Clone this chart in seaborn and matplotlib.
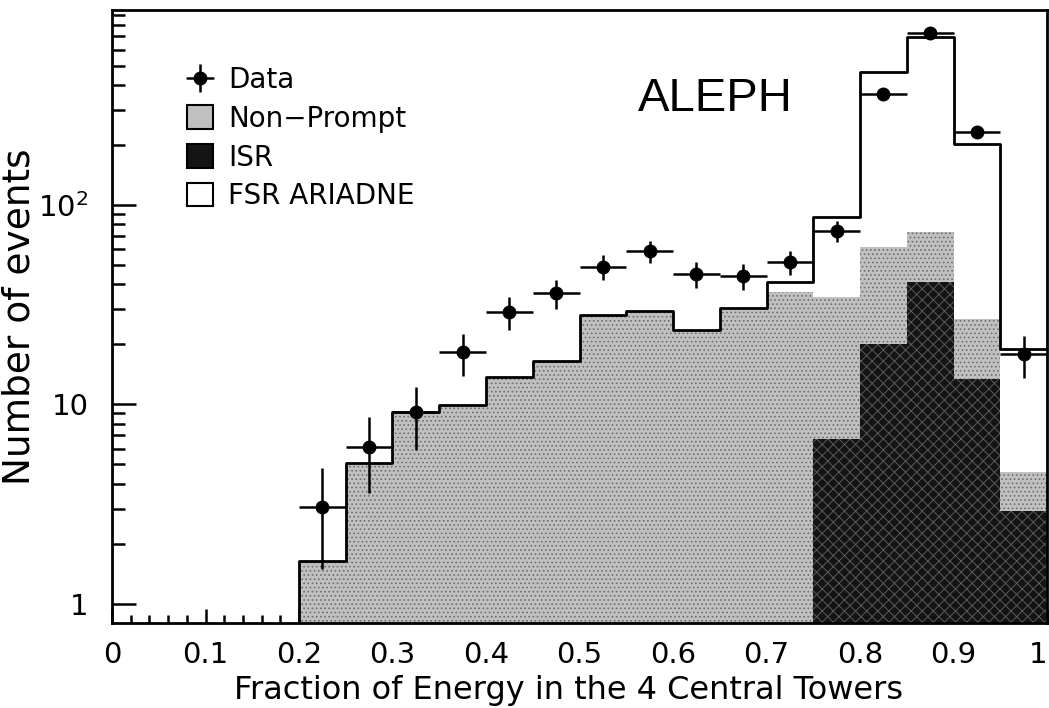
import numpy as np
import pandas as pd
import matplotlib
matplotlib.use("Agg")
import matplotlib.pyplot as plt
import seaborn as sns
from matplotlib.lines import Line2D
from matplotlib.patches import Patch
from matplotlib.ticker import FixedLocator, MultipleLocator, NullFormatter

# ---------------- data ----------------
bin_edges = [0.00, 0.05, 0.10, 0.15, 0.20, 0.25, 0.30, 0.35, 0.40, 0.45, 0.50,
             0.55, 0.60, 0.65, 0.70, 0.75, 0.80, 0.85, 0.90, 0.95, 1.00]
bin_centers = [0.025, 0.075, 0.125, 0.175, 0.225, 0.275, 0.325, 0.375, 0.425, 0.475,
               0.525, 0.575, 0.625, 0.675, 0.725, 0.775, 0.825, 0.875, 0.925, 0.975]

isr = [0, 0, 0, 0, 0, 0, 0, 0, 0, 0,
       0, 0, 0, 0, 0, 6.7, 20.0, 41.0, 13.4, 2.9]
non_prompt = [0, 0, 0, 0, 1.63, 5.05, 9.1, 9.9, 13.7, 16.4,
              28.0, 29.5, 23.5, 30.5, 36.5, 27.8, 41.5, 32.0, 13.3, 1.65]
fsr_ariadne = [0, 0, 0, 0, 0, 0, 0, 0, 0, 0,
               0, 0, 0, 0, 4.5, 52.5, 404.0, 626.0, 176.0, 14.4]

data_x = [0.225, 0.275, 0.325, 0.375, 0.425, 0.475, 0.525, 0.575, 0.625,
          0.675, 0.725, 0.775, 0.825, 0.875, 0.925, 0.975]
data_y = [3.07, 6.1, 9.1, 18.2, 29.0, 36.0, 49.0, 58.5, 45.0,
          44.0, 51.5, 74.0, 360.0, 730.0, 232.0, 17.8]
data_lo = [1.5, 3.6, 5.9, 13.9, 23.6, 30.0, 42.0, 50.9, 38.3,
           37.4, 44.3, 65.4, 341.0, 703.0, 217.0, 13.6]
data_hi = [4.8, 8.6, 12.2, 22.5, 34.4, 42.0, 56.0, 66.1, 51.7,
           50.6, 58.7, 82.6, 379.0, 757.0, 247.0, 22.0]

x_ticks = [0.0, 0.1, 0.2, 0.3, 0.4, 0.5, 0.6, 0.7, 0.8, 0.9, 1.0]
x_tick_labels = ["0", "0.1", "0.2", "0.3", "0.4", "0.5", "0.6", "0.7", "0.8", "0.9", "1"]
y_ticks = [1, 10, 100]
y_tick_labels = ["1", "10", r"$\mathregular{10^{2}}$"]

# ---------------- build tables ----------------
hist = pd.DataFrame({
    "x": bin_centers,
    "isr": isr,
    "non_prompt": non_prompt,
    "fsr": fsr_ariadne,
})
hist["stack_np"] = hist["isr"] + hist["non_prompt"]
hist["stack_total"] = hist["stack_np"] + hist["fsr"]

data = pd.DataFrame({"x": data_x, "y": data_y, "lo": data_lo, "hi": data_hi})

# ---------------- style ----------------
sns.set_style("ticks")
plt.rcParams["font.family"] = ["DejaVu Sans"]
plt.rcParams["hatch.linewidth"] = 0.7
plt.rcParams["mathtext.fontset"] = "dejavusans"
for key in ["text.color", "axes.labelcolor", "xtick.color", "ytick.color", "axes.edgecolor"]:
    plt.rcParams[key] = "black"

fig = plt.figure(figsize=(10.49, 7.08), dpi=100)
ax = fig.add_axes([112 / 1049, 1 - 623 / 708, 935 / 1049, 613 / 708])
ax.set_yscale("log")

# total (white, FSR on top)
sns.histplot(data=hist, x="x", weights="stack_total", bins=bin_edges,
             element="step", fill=True, color="white", alpha=1,
             linewidth=0, ax=ax)
# non-prompt (stipple grey)
plt.rcParams["hatch.color"] = "#6e6e6e"
sns.histplot(data=hist, x="x", weights="stack_np", bins=bin_edges,
             element="step", fill=True, facecolor="#c0c0c0", edgecolor="#6e6e6e",
             alpha=1, linewidth=0, hatch="....", ax=ax)
# ISR (dark cross-hatched)
plt.rcParams["hatch.color"] = "#5a5a5a"
sns.histplot(data=hist, x="x", weights="isr", bins=bin_edges,
             element="step", fill=True, facecolor="#141414", edgecolor="#5a5a5a",
             alpha=1, linewidth=0, hatch="xxx", ax=ax)
# total outline
sns.histplot(data=hist, x="x", weights="stack_total", bins=bin_edges,
             element="step", fill=False, color="black", linewidth=2.0, ax=ax)

# data points
yerr = np.vstack([data["y"] - data["lo"], data["hi"] - data["y"]])
ax.errorbar(data["x"], data["y"], xerr=0.025, yerr=yerr, fmt="o",
            color="black", markersize=9, elinewidth=1.8, capsize=0, zorder=10)

# ---------------- axes ----------------
ax.set_xlim(0, 1)
ax.set_ylim(0.8, 950)
ax.xaxis.set_major_locator(FixedLocator(x_ticks))
ax.set_xticklabels(x_tick_labels)
ax.get_xticklabels()[-1].set_horizontalalignment("right")
ax.xaxis.set_minor_locator(MultipleLocator(0.02))
ax.yaxis.set_major_locator(FixedLocator(y_ticks))
ax.set_yticklabels(y_tick_labels)
ax.yaxis.set_minor_locator(FixedLocator([2, 3, 4, 5, 6, 7, 8, 9,
                                         20, 30, 40, 50, 60, 70, 80, 90,
                                         200, 300, 400, 500, 600, 700, 800, 900]))
ax.yaxis.set_minor_formatter(NullFormatter())

ax.tick_params(axis="both", which="both", direction="in", color="black",
               width=1.8, labelsize=21, labelcolor="black")
ax.tick_params(axis="x", which="major", length=10, pad=13)
ax.tick_params(axis="x", which="minor", length=6)
ax.tick_params(axis="y", which="major", length=17, pad=17)
ax.tick_params(axis="y", which="minor", length=9)
for s in ax.spines.values():
    s.set_linewidth(2.0)
    s.set_color("black")

ax.set_xlabel("Fraction of Energy in the 4 Central Towers", fontsize=23)
ax.xaxis.set_label_coords(0.488, -0.085)
ax.set_ylabel("Number of events", fontsize=27)
ax.yaxis.set_label_coords(-0.080, 0.50)

# ALEPH label
ax.text(0.563, 0.855, "ALEPH", transform=ax.transAxes, fontsize=34,
        family=["Liberation Sans", "DejaVu Sans"], ha="left", va="center",
        color="black")

# legend
data_handle = (
    Line2D([0], [0], color="black", linewidth=1.8),
    Line2D([0], [0], color="black", marker="|", markersize=20,
           markeredgewidth=1.8, linestyle=""),
    Line2D([0], [0], color="black", marker="o", markersize=9, linestyle=""),
)
handles = [
    data_handle,
    Patch(facecolor="#c0c0c0", edgecolor="black", linewidth=1.5),
    Patch(facecolor="#141414", edgecolor="black", linewidth=1.5),
    Patch(facecolor="white", edgecolor="black", linewidth=1.5),
]
labels = ["Data", "Non\u2212Prompt", "ISR", "FSR ARIADNE"]
ax.legend(handles, labels, loc="upper left", bbox_to_anchor=(0.080, 0.908),
          frameon=False, fontsize=20, handlelength=0.95, handleheight=0.95,
          handletextpad=0.55, labelspacing=0.38, borderaxespad=0,
          borderpad=0)

fig.savefig("out.png", dpi=100)
